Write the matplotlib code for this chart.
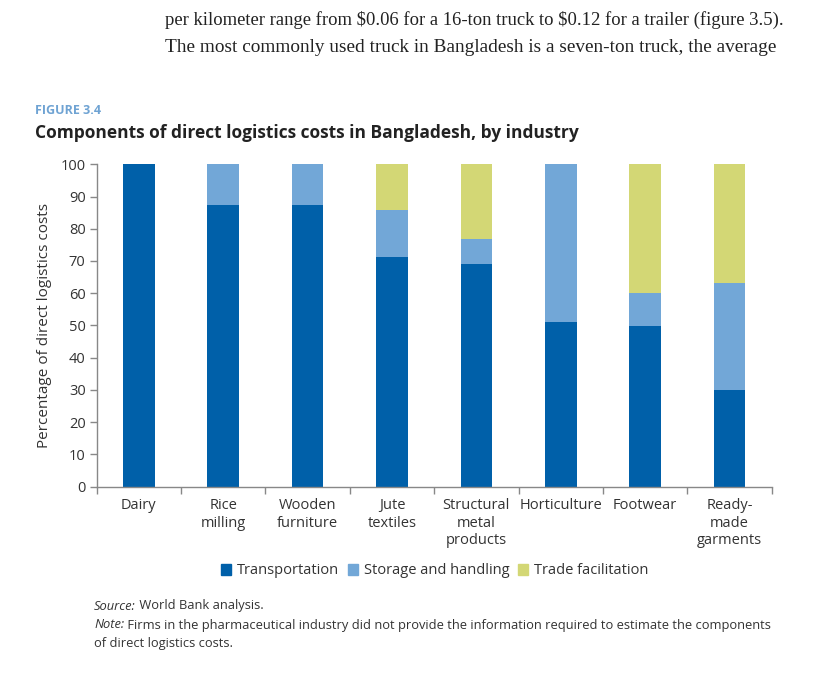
import matplotlib
matplotlib.use('Agg')
import matplotlib.pyplot as plt
from matplotlib.patches import Patch
import numpy as np

# data
industries = ["Dairy", "Rice\nmilling", "Wooden\nfurniture", "Jute\ntextiles",
              "Structural\nmetal\nproducts", "Horticulture", "Footwear",
              "Ready-\nmade\ngarments"]
transportation = [100.0, 87.4, 87.4, 71.2, 69.0, 51.2, 49.7, 30.0]
storage = [0.0, 12.6, 12.6, 14.5, 7.7, 48.8, 10.3, 33.1]
trade = [0.0, 0.0, 0.0, 14.3, 23.3, 0.0, 40.0, 36.9]
series_names = ["Transportation", "Storage and handling", "Trade facilitation"]
yticks = list(range(0, 101, 10))

c_trans = "#0060a9"
c_store = "#72a7d7"
c_trade = "#d3d775"
grey = "#333333"

plt.rcParams['font.family'] = ['Open Sans', 'DejaVu Sans']

fig = plt.figure(figsize=(8.31, 6.99), dpi=100)
ax = fig.add_axes([0.1164, 0.3037, 0.8122, 0.4613])

x = np.arange(len(industries))
w = 0.375
ax.bar(x, transportation, w, color=c_trans)
ax.bar(x, storage, w, bottom=transportation, color=c_store)
bottom2 = np.array(transportation) + np.array(storage)
ax.bar(x, trade, w, bottom=bottom2, color=c_trade)

ax.set_xlim(-0.5, len(industries) - 0.5)
ax.set_ylim(0, 100)
ax.set_yticks(yticks)
ax.set_yticklabels([str(v) for v in yticks], fontsize=10.5, color=grey)
ax.set_xticks(x)
ax.set_xticklabels(industries, fontsize=10.5, color=grey, linespacing=1.25)
ax.tick_params(axis='x', which='major', length=0, pad=8)
ax.set_xticks(np.arange(-0.5, len(industries)), minor=True)
ax.tick_params(axis='x', which='minor', length=5, color="#888888", width=1)
ax.tick_params(axis='y', length=5, color="#888888", width=1, pad=3)
for s in ['top', 'right']:
    ax.spines[s].set_visible(False)
for s in ['left', 'bottom']:
    ax.spines[s].set_color("#888888")
    ax.spines[s].set_linewidth(1)
ax.set_ylabel("Percentage of direct logistics costs", fontsize=11, color=grey, labelpad=6)

handles = [Patch(color=c) for c in (c_trans, c_store, c_trade)]
fig.legend(handles, series_names, loc='center', bbox_to_anchor=(0.523, 1 - 571 / 699),
           ncol=3, frameon=False, fontsize=10.5, handlelength=0.7, handleheight=0.7,
           handletextpad=0.4, columnspacing=0.6, labelcolor=grey)

# body text above the figure
body = "#222222"
fig.text(165 / 831, 1 - 20 / 699,
         "per kilometer range from \\$0.06 for a 16-ton truck to \\$0.12 for a trailer (figure 3.5).",
         fontsize=13.45, family='Liberation Serif', color=body, va='center')
fig.text(165 / 831, 1 - 47 / 699,
         "The most commonly used truck in Bangladesh is a seven-ton truck, the average",
         fontsize=13.85, family='Liberation Serif', color=body, va='center')

fig.text(35 / 831, 1 - 110 / 699, "FIGURE 3.4", fontsize=9, fontweight='bold',
         color="#6fa3d3", va='center')
fig.text(35 / 831, 1 - 133 / 699, "Components of direct logistics costs in Bangladesh, by industry",
         fontsize=12.5, fontweight='bold', color="#222222", va='center')

fs = 9.3
t1 = fig.text(94 / 831, 1 - 606 / 699, "Source:", fontsize=fs, style='italic', color=grey, va='center')
ax.annotate(" World Bank analysis.", xy=(1, 0.5), xycoords=t1, va='center', fontsize=fs, color=grey)
t2 = fig.text(94 / 831, 1 - 625 / 699, "Note:", fontsize=fs, style='italic', color=grey, va='center')
ax.annotate(" Firms in the pharmaceutical industry did not provide the information required to estimate the components",
            xy=(1, 0.5), xycoords=t2, va='center', fontsize=fs, color=grey)
fig.text(94 / 831, 1 - 643 / 699, "of direct logistics costs.", fontsize=fs, color=grey, va='center')

fig.savefig("out.png", dpi=100)
